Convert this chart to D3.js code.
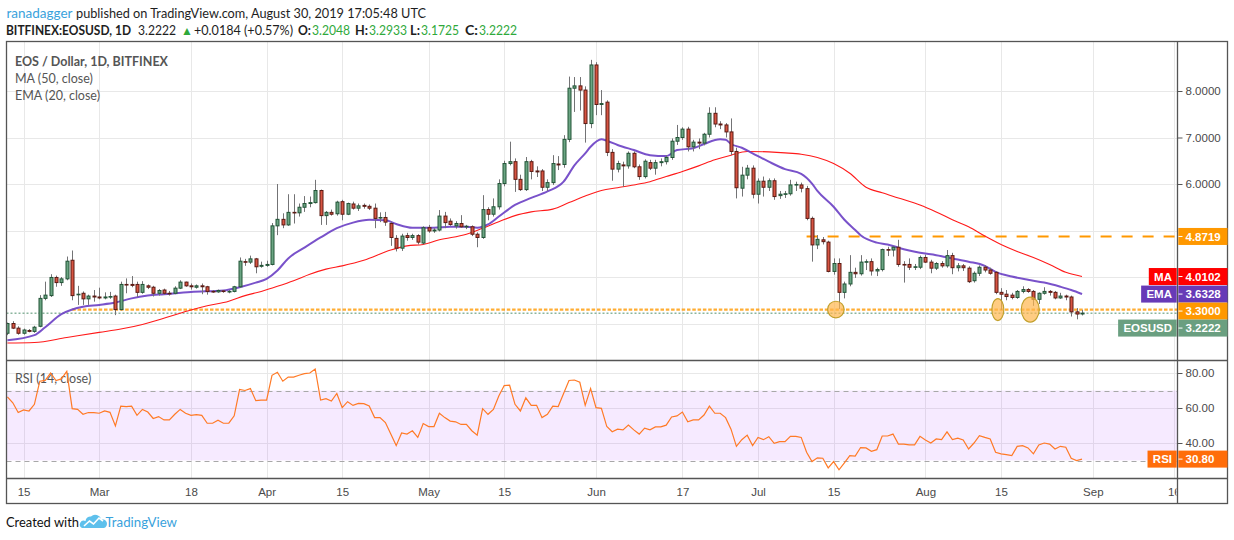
<!DOCTYPE html>
<html><head><meta charset="utf-8">
<script src="https://cdn.jsdelivr.net/npm/d3@7"></script>
<style>
html,body{margin:0;padding:0;background:#fff;}
svg{display:block;}
</style></head><body>
<svg id="c" width="1234" height="540" xmlns="http://www.w3.org/2000/svg"></svg>
<script>
// ---------------- DATA ----------------
const firstDay = "2019-02-12";
const open = [
2.79,3.00,2.90,2.79,2.85,2.83,2.94,3.54,3.60,3.99,3.88,3.96,4.36,3.62,3.65,3.53,3.59,3.57,3.55,3.58,
3.59,3.30,3.84,3.84,3.84,3.67,3.81,3.78,3.65,3.72,3.65,3.65,3.76,3.89,3.81,3.78,3.81,3.79,3.69,3.68,
3.70,3.69,3.69,3.79,4.33,4.32,4.39,4.23,4.25,4.27,5.10,5.24,5.12,5.39,5.38,5.50,5.58,5.60,5.86,5.32,
5.39,5.36,5.62,5.35,5.57,5.48,5.54,5.52,5.48,5.27,5.28,5.15,4.83,4.62,4.89,4.85,4.89,4.73,5.06,4.99,
5.01,5.31,5.20,5.10,5.15,5.08,5.08,4.92,4.85,5.45,5.35,5.51,6.01,6.44,6.48,6.10,5.88,6.48,6.28,6.28,
5.93,6.03,6.43,6.42,6.96,8.06,8.11,8.02,7.30,8.56,7.71,7.76,6.68,6.32,6.41,6.39,6.66,6.37,6.16,6.46,
6.34,6.46,6.48,6.57,6.92,7.00,7.18,6.80,6.90,6.88,7.07,7.52,7.29,7.27,7.12,6.70,5.91,6.19,6.34,5.78,
6.06,5.93,6.07,5.75,5.78,5.79,5.98,5.98,5.90,5.26,4.69,4.80,4.75,4.12,4.29,3.67,3.85,4.10,4.07,4.32,
4.33,4.13,4.16,4.59,4.58,4.64,4.27,4.27,4.21,4.21,4.42,4.32,4.19,4.29,4.24,4.46,4.20,4.24,4.19,3.92,
4.08,4.21,4.15,4.10,3.67,3.63,3.61,3.56,3.69,3.73,3.69,3.52,3.65,3.69,3.67,3.55,3.59,3.57,3.25,3.2048];
const high = [
3.02,3.05,2.94,2.89,2.88,2.95,3.61,3.90,4.06,4.03,4.00,4.44,4.57,3.81,3.69,3.62,3.72,3.77,3.67,3.68,
3.62,3.90,3.97,4.02,3.90,3.91,3.84,3.81,3.74,3.75,3.70,3.80,3.93,3.90,3.86,3.84,3.86,3.81,3.72,3.73,
3.72,3.72,3.81,4.42,4.39,4.46,4.41,4.33,4.35,5.16,6.00,5.37,5.78,5.78,5.58,5.74,5.73,6.09,5.88,5.42,
5.45,5.64,5.66,5.60,5.62,5.58,5.58,5.56,5.58,5.39,5.40,5.19,4.90,4.93,4.95,4.93,4.92,5.09,5.12,5.05,
5.44,5.40,5.26,5.20,5.33,5.12,5.11,4.96,5.76,5.50,5.69,6.10,6.50,6.91,6.55,6.20,6.58,6.52,6.38,6.32,
6.10,6.62,6.60,7.05,8.31,8.30,8.30,8.10,8.67,8.62,8.02,7.80,6.75,6.50,6.48,6.70,6.70,6.42,6.53,6.52,
6.52,6.55,6.62,6.98,7.27,7.22,7.23,6.95,6.98,7.10,7.65,7.65,7.35,7.31,7.41,6.78,6.37,6.41,6.40,6.12,
6.16,6.12,6.12,5.85,5.85,6.09,6.05,6.03,5.96,5.30,4.90,4.86,4.78,4.40,4.40,3.90,4.47,4.20,4.47,4.38,
4.40,4.20,4.61,4.65,4.66,4.80,4.34,4.40,4.28,4.46,4.48,4.37,4.32,4.34,4.58,4.52,4.30,4.28,4.23,4.12,
4.25,4.25,4.20,4.12,3.76,3.72,3.66,3.72,3.80,3.76,3.72,3.67,3.78,3.72,3.70,3.66,3.62,3.60,3.33,3.2933];
const low = [
2.75,2.88,2.76,2.76,2.81,2.80,2.92,3.50,3.57,3.79,3.81,3.93,3.50,3.40,3.40,3.40,3.47,3.52,3.52,3.53,
3.18,3.28,3.65,3.78,3.57,3.64,3.74,3.58,3.60,3.62,3.60,3.63,3.74,3.79,3.73,3.75,3.63,3.62,3.66,3.66,
3.66,3.65,3.67,3.77,4.24,4.28,4.08,4.20,4.22,4.25,4.90,5.05,5.10,5.15,5.30,5.40,5.50,5.58,5.12,5.12,
5.32,5.32,5.22,5.33,5.45,5.42,5.47,5.44,5.05,5.18,5.10,4.67,4.55,4.56,4.78,4.80,4.70,4.70,4.95,4.95,
4.98,5.05,5.10,5.04,5.06,5.03,4.88,4.64,4.82,5.22,5.30,5.45,5.95,6.40,5.83,5.85,5.85,6.10,6.15,5.85,
5.85,5.98,6.30,6.35,6.90,7.55,7.58,6.89,7.20,7.48,7.48,6.60,6.07,6.25,5.94,6.33,6.34,6.09,6.12,6.30,
6.20,6.38,6.42,6.52,6.84,6.95,6.70,6.70,6.75,6.83,7.00,7.22,7.18,7.00,6.62,5.69,5.73,6.10,5.69,5.58,
5.73,5.85,5.66,5.68,5.70,5.75,5.85,5.82,5.22,4.33,4.60,4.70,4.10,4.05,3.31,3.54,3.80,3.98,4.03,4.15,
4.03,4.02,4.12,4.45,4.44,4.22,3.88,4.15,4.15,4.17,4.30,4.08,4.15,4.20,4.20,4.06,4.12,4.13,3.87,3.88,
4.02,4.10,4.05,3.63,3.29,3.50,3.52,3.53,3.65,3.66,3.38,3.42,3.62,3.60,3.52,3.53,3.50,3.15,3.09,3.1725];
const close = [
3.00,2.90,2.79,2.86,2.83,2.92,3.54,3.61,3.99,3.88,3.96,4.34,3.60,3.63,3.53,3.59,3.57,3.55,3.57,3.58,
3.30,3.84,3.83,3.82,3.67,3.84,3.78,3.65,3.71,3.65,3.64,3.76,3.89,3.81,3.79,3.81,3.79,3.69,3.68,3.71,
3.69,3.69,3.79,4.34,4.32,4.39,4.22,4.25,4.27,5.10,5.24,5.12,5.39,5.38,5.50,5.58,5.60,5.86,5.32,5.39,
5.35,5.61,5.35,5.58,5.48,5.53,5.52,5.48,5.26,5.28,5.18,4.85,4.62,4.88,4.85,4.89,4.75,5.06,4.99,5.01,
5.31,5.17,5.13,5.15,5.08,5.09,4.92,4.85,5.45,5.35,5.51,6.01,6.44,6.48,6.10,5.88,6.48,6.27,6.26,5.93,
6.03,6.44,6.41,6.96,8.06,8.11,8.02,7.30,8.56,7.71,7.73,6.68,6.32,6.44,6.39,6.66,6.37,6.16,6.49,6.34,
6.46,6.48,6.57,6.92,7.00,7.18,6.80,6.90,6.88,7.07,7.52,7.29,7.27,7.12,6.70,5.92,6.19,6.34,5.78,6.06,
5.93,6.07,5.73,5.78,5.79,5.98,5.99,5.91,5.26,4.69,4.81,4.76,4.12,4.29,3.67,3.85,4.10,4.07,4.32,4.33,
4.13,4.16,4.59,4.58,4.64,4.27,4.26,4.21,4.22,4.42,4.32,4.19,4.29,4.24,4.46,4.20,4.24,4.20,3.90,4.08,
4.21,4.15,4.08,3.67,3.63,3.58,3.56,3.69,3.73,3.69,3.52,3.65,3.69,3.67,3.55,3.59,3.57,3.25,3.2038,3.2222];
const rsiValues = [
66.4,63.0,57.4,58.9,58.3,62.1,75.3,75.8,80.0,75.7,76.6,80.9,59.6,59.2,56.4,57.4,57.4,57.0,58.3,57.5,
49.8,61.1,60.8,61.1,55.8,59.2,57.7,54.0,55.1,53.2,53.2,56.4,59.2,57.0,55.8,56.2,55.8,51.3,51.3,53.0,
51.3,51.3,55.5,70.6,70.0,71.1,64.2,64.5,64.5,78.7,80.4,75.3,77.7,77.7,78.7,79.6,80.0,82.3,64.5,65.3,
64.0,68.3,60.2,63.6,61.5,62.6,62.5,61.1,54.5,54.5,51.7,45.1,38.5,45.7,45.1,47.0,43.2,51.1,49.4,49.4,
57.0,54.5,52.5,52.1,50.6,50.6,47.0,44.5,59.6,56.4,59.2,66.8,72.8,73.0,62.1,58.3,65.8,61.5,61.5,54.5,
56.4,61.1,60.8,68.3,75.7,76.0,74.7,61.5,71.1,60.2,59.8,49.4,46.4,47.9,47.5,50.2,47.5,45.1,48.5,47.5,
49.2,49.2,50.2,54.9,55.5,57.7,52.1,53.2,53.2,56.0,61.1,57.0,57.0,54.5,47.9,38.1,41.9,44.5,38.5,43.2,
41.9,43.6,39.8,40.8,40.8,43.8,43.8,43.2,34.7,29.4,31.5,31.3,25.8,29.4,24.7,28.7,32.8,32.5,37.4,37.2,
35.3,36.2,44.0,44.0,45.1,39.4,39.4,38.9,38.9,43.8,41.7,40.0,42.3,41.9,46.4,41.9,42.8,41.7,36.6,40.0,
44.2,43.2,42.3,34.7,33.8,33.4,32.8,38.1,38.5,37.2,33.8,38.9,40.0,39.4,36.6,38.1,37.6,31.3,30.0,30.8];
// MA(50)
const maPoints = [
["2019-02-12",2.58],["2019-02-17",2.59],["2019-02-23",2.70],["2019-03-01",2.81],["2019-03-05",2.88],
["2019-03-09",2.98],["2019-03-14",3.15],["2019-03-18",3.29],["2019-03-21",3.38],["2019-03-25",3.48],
["2019-03-28",3.60],["2019-03-31",3.69],["2019-04-03",3.80],["2019-04-06",3.92],["2019-04-09",4.06],
["2019-04-12",4.17],["2019-04-15",4.24],["2019-04-19",4.36],["2019-04-24",4.58],["2019-04-27",4.67],
["2019-04-30",4.70],["2019-05-03",4.80],["2019-05-08",4.92],["2019-05-11",5.05],["2019-05-14",5.19],
["2019-05-17",5.32],["2019-05-20",5.40],["2019-05-24",5.46],["2019-05-27",5.60],["2019-05-30",5.74],
["2019-06-02",5.86],["2019-06-05",5.92],["2019-06-08",5.98],["2019-06-11",6.05],["2019-06-14",6.16],
["2019-06-17",6.27],["2019-06-20",6.39],["2019-06-23",6.52],["2019-06-26",6.62],["2019-06-29",6.70],
["2019-07-03",6.69],["2019-07-06",6.67],["2019-07-09",6.64],["2019-07-12",6.57],["2019-07-15",6.44],
["2019-07-18",6.23],["2019-07-21",5.93],["2019-07-24",5.81],["2019-07-27",5.70],["2019-07-31",5.55],
["2019-08-03",5.40],["2019-08-06",5.23],["2019-08-09",5.08],["2019-08-12",4.88],["2019-08-15",4.70],
["2019-08-18",4.55],["2019-08-21",4.42],["2019-08-24",4.27],["2019-08-27",4.10],["2019-08-30",4.0102]];
// EMA(20)
const emaPoints = [
["2019-02-12",2.64],["2019-02-17",2.75],["2019-02-19",2.92],["2019-02-22",3.20],["2019-02-24",3.30],
["2019-02-26",3.36],["2019-03-01",3.40],["2019-03-04",3.45],["2019-03-07",3.54],["2019-03-10",3.60],
["2019-03-13",3.63],["2019-03-18",3.68],["2019-03-24",3.71],["2019-03-27",3.78],["2019-03-30",3.88],
["2019-04-01",3.96],["2019-04-03",4.14],["2019-04-05",4.40],["2019-04-08",4.63],["2019-04-11",4.85],
["2019-04-14",5.05],["2019-04-17",5.17],["2019-04-20",5.23],["2019-04-23",5.22],["2019-04-25",5.14],
["2019-04-28",5.06],["2019-05-02",5.06],["2019-05-05",5.08],["2019-05-08",5.08],["2019-05-10",5.06],
["2019-05-12",5.13],["2019-05-14",5.30],["2019-05-17",5.55],["2019-05-20",5.70],["2019-05-23",5.84],
["2019-05-26",6.05],["2019-05-28",6.40],["2019-05-30",6.66],["2019-05-31",6.80],["2019-06-02",6.96],
["2019-06-03",6.93],["2019-06-05",6.84],["2019-06-08",6.73],["2019-06-11",6.62],["2019-06-14",6.60],
["2019-06-16",6.73],["2019-06-19",6.77],["2019-06-21",6.86],["2019-06-24",6.96],["2019-06-25",6.95],
["2019-06-26",6.86],["2019-06-28",6.78],["2019-06-30",6.66],["2019-07-03",6.48],["2019-07-06",6.32],
["2019-07-09",6.22],["2019-07-11",6.01],["2019-07-12",5.85],["2019-07-15",5.51],["2019-07-17",5.23],
["2019-07-19",5.01],["2019-07-20",4.90],["2019-07-23",4.74],["2019-07-25",4.70],["2019-07-27",4.63],
["2019-07-29",4.57],["2019-07-31",4.52],["2019-08-03",4.47],["2019-08-06",4.40],["2019-08-09",4.33],
["2019-08-12",4.24],["2019-08-14",4.11],["2019-08-17",4.01],["2019-08-20",3.94],["2019-08-23",3.88],
["2019-08-26",3.79],["2019-08-28",3.72],["2019-08-30",3.6328]];
const timeTickDates = ["2019-02-15","2019-03-01","2019-03-18","2019-04-01","2019-04-15","2019-05-01","2019-05-15",
  "2019-06-01","2019-06-17","2019-07-01","2019-07-15","2019-08-01","2019-08-15","2019-09-01","2019-09-16"];
const timeTickLabels = ["15","Mar","18","Apr","15","May","15","Jun","17","Jul","15","Aug","15","Sep","16"];
const priceTicks = [8,7,6,5,4,3];
const rsiTicks = [80,60,40];
const rsiBand = [70,30];
const resistance = 4.8719, resistanceFrom = "2019-07-10";
const support = 3.30, supportFrom = "2019-02-24";
const touchTimes = ["2019-07-15T10:00","2019-08-14T10:00","2019-08-20T10:00"];

// ---------------- SETUP ----------------
const svg = d3.select("#c");
const parseDay = d3.utcParse("%Y-%m-%d");
const parseTime = d3.utcParse("%Y-%m-%dT%H:%M");
const days = d3.utcDay.range(parseDay(firstDay), d3.utcDay.offset(parseDay(firstDay), close.length));
const candles = days.map((d,i)=>({d, o:open[i], h:high[i], l:low[i], c:close[i], r:rsiValues[i]}));

const LEFT=6.5, RIGHT=1227.5, TOP=41.5, AXISX=1177.5, MAINB=360.5, RSIB=478.5, BOTTOM=503.5;
const x = d3.scaleUtc().domain([parseDay("2019-03-01"), parseDay("2019-07-01")]).range([99.2, 758]);
const y = d3.scaleLinear().domain([3,8]).range([323.5, 91]);
const yR = d3.scaleLinear().domain([30,80]).range([460.5, 373]);

const AX_FONT = "'Liberation Sans', Arial, sans-serif";
const UI_FONT = "Lato, 'Open Sans', sans-serif";
const GRID = "#e8e8e8", FRAME = "#555";

const defs = svg.append("defs");
defs.append("clipPath").attr("id","clipMain").append("rect")
  .attr("x",LEFT).attr("y",TOP).attr("width",AXISX-LEFT).attr("height",MAINB-TOP);
defs.append("clipPath").attr("id","clipRsi").append("rect")
  .attr("x",LEFT).attr("y",MAINB).attr("width",AXISX-LEFT).attr("height",RSIB-MAINB);
defs.append("clipPath").attr("id","clipTime").append("rect")
  .attr("x",LEFT).attr("y",RSIB).attr("width",AXISX-LEFT-1).attr("height",BOTTOM-RSIB);

svg.append("rect").attr("width",1234).attr("height",540).attr("fill","#fff");

// ---------------- HEADER ----------------
const hdr = svg.append("g").attr("font-family",UI_FONT).attr("font-size",13).attr("fill","#1e1e1e");
// text placed at the reference's spans; textLength keeps each span its width
const hText = (x0, x1, yy, txt, opt={}) => hdr.append("text").attr("x",x0).attr("y",yy)
  .attr("font-weight",opt.bold?"bold":null).attr("fill",opt.fill||null)
  .attr("textLength",x1-x0).attr("lengthAdjust","spacingAndGlyphs").text(txt);
hText(6.5, 72.5, 17.5, "ranadagger", {fill:"#3aa2dc"});
hText(76, 426, 17.5, "published on TradingView.com, August 30, 2019 17:05:48 UTC");

const last = candles[candles.length-1], prev = candles[candles.length-2];
const chg = last.c - prev.c, pct = chg/prev.c*100;
const f4 = d3.format(".4f");
const GREEN_TXT = "#2fa93b";
hText(6, 131, 35, "BITFINEX:EOSUSD, 1D", {bold:true});
hText(138, 176, 35, f4(last.c));
hdr.append("text").attr("x",181).attr("y",35).attr("fill",GREEN_TXT).attr("font-size",12).text("▲");
hText(194, 293, 35, (chg>=0?"+":"") + f4(chg) + " (" + (pct>=0?"+":"") + d3.format(".2f")(pct) + "%)");
[["O:",last.o,298,312],["H:",last.h,355,369],["L:",last.l,410,421],["C:",last.c,465,479]].forEach(([k,v,a,b])=>{
  hText(a, b-1, 35, k, {bold:true});
  hText(b, b+38, 35, f4(v), {fill:GREEN_TXT});
});

// ---------------- GRID ----------------
const tickDates = timeTickDates.map(parseDay);
const gGrid = svg.append("g");
gGrid.append("g").attr("clip-path","url(#clipMain)").selectAll("line.v").data(tickDates).join("line")
  .attr("x1",d=>Math.round(x(d))+0.5).attr("x2",d=>Math.round(x(d))+0.5).attr("y1",TOP).attr("y2",MAINB)
  .attr("stroke",GRID);
gGrid.append("g").attr("clip-path","url(#clipRsi)").selectAll("line.v").data(tickDates).join("line")
  .attr("x1",d=>Math.round(x(d))+0.5).attr("x2",d=>Math.round(x(d))+0.5).attr("y1",MAINB).attr("y2",RSIB)
  .attr("stroke",GRID);
gGrid.selectAll("line.hp").data(priceTicks).join("line").attr("class","hp")
  .attr("x1",LEFT).attr("x2",AXISX).attr("y1",d=>Math.round(y(d))+0.5).attr("y2",d=>Math.round(y(d))+0.5)
  .attr("stroke",GRID);
gGrid.selectAll("line.hr").data(rsiTicks).join("line").attr("class","hr")
  .attr("x1",LEFT).attr("x2",AXISX).attr("y1",d=>Math.round(yR(d))+0.5).attr("y2",d=>Math.round(yR(d))+0.5)
  .attr("stroke",GRID);

// ---------------- LEGENDS ----------------
const lg = svg.append("g").attr("font-family",UI_FONT).attr("font-size",12.5).attr("fill","#555");
lg.append("text").attr("x",15).attr("y",65.5).attr("font-weight","bold").text("EOS / Dollar, 1D, BITFINEX");
lg.append("text").attr("x",15).attr("y",82.5).text("MA (50, close)");
lg.append("text").attr("x",15).attr("y",99.5).text("EMA (20, close)");
lg.append("text").attr("x",15).attr("y",382.5).text("RSI (14, close)");

// ---------------- MAIN PANE ----------------
const gMain = svg.append("g").attr("clip-path","url(#clipMain)");

gMain.append("line").attr("x1",LEFT).attr("x2",AXISX)
  .attr("y1",y(last.c)).attr("y2",y(last.c))
  .attr("stroke","#4f8f6c").attr("stroke-width",1).attr("stroke-dasharray","2,2");
gMain.append("line").attr("x1",x(parseDay(supportFrom))).attr("x2",AXISX)
  .attr("y1",y(support)).attr("y2",y(support))
  .attr("stroke","#ff9800").attr("stroke-opacity",0.8).attr("stroke-width",2.2).attr("stroke-dasharray","3.5,1.8");
gMain.append("line").attr("x1",x(parseDay(resistanceFrom))).attr("x2",AXISX)
  .attr("y1",y(resistance)).attr("y2",y(resistance))
  .attr("stroke","#ff9800").attr("stroke-width",2).attr("stroke-dasharray","11,10");

const lineGen = d3.line().x(d=>x(parseDay(d[0]))).y(d=>y(d[1])).curve(d3.curveMonotoneX);
gMain.append("path").attr("d",lineGen(maPoints)).attr("fill","none").attr("stroke","#ff1a1a").attr("stroke-width",1.1);
gMain.append("path").attr("d",lineGen(emaPoints)).attr("fill","none").attr("stroke","#6a3fc4").attr("stroke-width",2).attr("stroke-opacity",0.9);

const gC = gMain.append("g");
const cg = gC.selectAll("g").data(candles).join("g");
cg.append("line")
  .attr("x1",d=>Math.round(x(d.d))+0.5).attr("x2",d=>Math.round(x(d.d))+0.5)
  .attr("y1",d=>y(d.h)).attr("y2",d=>y(d.l))
  .attr("stroke","#737375").attr("stroke-width",1);
cg.append("rect")
  .attr("x",d=>Math.round(x(d.d))-1.5+0.5)
  .attr("width",3)
  .attr("y",d=>Math.min(y(d.o),y(d.c)))
  .attr("height",d=>Math.max(0.6,Math.abs(y(d.o)-y(d.c))))
  .attr("fill",d=>d.c>=d.o?"#6ba583":"#d75442")
  .attr("stroke",d=>d.c>=d.o?"#225437":"#5b1a13")
  .attr("stroke-width",1);

const touchR = [[8.3,8.3],[6,11],[9,12.5]];
gMain.selectAll("ellipse").data(touchTimes).join("ellipse")
  .attr("cx",d=>x(parseTime(d))).attr("cy",y(support))
  .attr("rx",(d,i)=>touchR[i][0]).attr("ry",(d,i)=>touchR[i][1])
  .attr("fill","#ffb74d").attr("fill-opacity",0.7)
  .attr("stroke","#c3a12e").attr("stroke-width",1.2);

// ---------------- RSI PANE ----------------
const gR = svg.append("g").attr("clip-path","url(#clipRsi)");
gR.append("rect").attr("x",LEFT).attr("width",AXISX-LEFT)
  .attr("y",yR(rsiBand[0])).attr("height",yR(rsiBand[1])-yR(rsiBand[0]))
  .attr("fill","rgb(153,21,255)").attr("fill-opacity",0.09);
gR.selectAll("line.band").data(rsiBand).join("line").attr("class","band")
  .attr("x1",LEFT).attr("x2",AXISX).attr("y1",d=>Math.round(yR(d))+0.5).attr("y2",d=>Math.round(yR(d))+0.5)
  .attr("stroke","#a8a8a8").attr("stroke-dasharray","5,4");
gR.append("path")
  .attr("d", d3.line().x(d=>x(d.d)).y(d=>yR(d.r))(candles))
  .attr("fill","none").attr("stroke","#ff7a26").attr("stroke-width",1.2);

// ---------------- FRAME ----------------
const fr = svg.append("g").attr("stroke",FRAME).attr("stroke-width",1.3).attr("fill","none");
fr.append("rect").attr("x",LEFT).attr("y",TOP).attr("width",RIGHT-LEFT).attr("height",BOTTOM-TOP);
fr.append("line").attr("x1",AXISX).attr("x2",AXISX).attr("y1",TOP).attr("y2",BOTTOM);
fr.append("line").attr("x1",LEFT).attr("x2",RIGHT).attr("y1",MAINB).attr("y2",MAINB);
fr.append("line").attr("x1",LEFT).attr("x2",RIGHT).attr("y1",RSIB).attr("y2",RSIB);

// ---------------- PRICE LABEL BOXES (layout) ----------------
const BOXH = 17;
const boxes = [
  {v:resistance, color:"#ff9800"},
  {v:maPoints[maPoints.length-1][1], name:"MA", color:"#ff0000"},
  {v:emaPoints[emaPoints.length-1][1], name:"EMA", color:"#673ab7"},
  {v:support, color:"#ff9800"},
  {v:last.c, name:"EOSUSD", color:"#6a9f80"}
].sort((a,b)=>y(a.v)-y(b.v));
let prevBottom = -1e9;
boxes.forEach(b=>{ let cy=y(b.v); if (cy-BOXH/2 < prevBottom) cy = prevBottom + BOXH/2; b.cy=cy; prevBottom = cy+BOXH/2; });

// ---------------- AXES ----------------
const styleAxis = g => {
  g.select(".domain").remove();
  g.selectAll("text").attr("font-family",AX_FONT).attr("font-size",11.5).attr("fill","#4a4a4a");
  g.selectAll(".tick line").attr("stroke",FRAME);
};
// scale labels hidden behind a price label box are dropped, as TradingView does
const visibleTicks = priceTicks.filter(v => !boxes.some(b => Math.abs(y(v)-b.cy) < BOXH/2 + 5));
svg.append("g").attr("transform",`translate(${AXISX},0)`)
  .call(d3.axisRight(y).tickValues(visibleTicks).tickFormat(f4).tickSize(5).tickPadding(3))
  .call(styleAxis);
svg.append("g").attr("transform",`translate(${AXISX},0)`)
  .call(d3.axisRight(yR).tickValues(rsiTicks).tickFormat(d3.format(".2f")).tickSize(5).tickPadding(3))
  .call(styleAxis);
svg.append("g").attr("clip-path","url(#clipTime)").append("g").attr("transform",`translate(0,${RSIB})`)
  .call(d3.axisBottom(x).tickValues(tickDates).tickFormat((d,i)=>timeTickLabels[i]).tickSize(0).tickPadding(9))
  .call(styleAxis);

function drawBox(cy, value, name, color){
  const g = svg.append("g").attr("font-family",AX_FONT).attr("font-size",11.5).attr("font-weight","bold");
  g.append("rect").attr("x",AXISX+0.8).attr("y",cy-BOXH/2).attr("width",RIGHT-AXISX-0.8).attr("height",BOXH).attr("fill",color);
  g.append("line").attr("x1",AXISX+1).attr("x2",AXISX+5).attr("y1",cy).attr("y2",cy).attr("stroke","#fff");
  g.append("text").attr("x",AXISX+8).attr("y",cy).attr("dy","0.36em").attr("fill","#fff").text(value);
  if (name){
    const t = g.append("text").attr("y",cy).attr("dy","0.36em").attr("fill","#fff").attr("text-anchor","end").text(name);
    const w = t.node().getComputedTextLength() + 10;
    g.insert("rect","text").attr("x",AXISX-0.8-w).attr("y",cy-BOXH/2).attr("width",w).attr("height",BOXH).attr("fill",color);
    t.attr("x",AXISX-5.5);
  }
}
boxes.forEach(b=>drawBox(b.cy, f4(b.v), b.name, b.color));
drawBox(yR(last.r), d3.format(".2f")(last.r), "RSI", "#ff6d0a");

// ---------------- FOOTER ----------------
const ft = svg.append("g").attr("font-family",UI_FONT).attr("font-size",13.5);
ft.append("text").attr("x",6).attr("y",526.5).attr("fill","#111")
  .attr("textLength",73).attr("lengthAdjust","spacingAndGlyphs").text("Created with");
ft.append("path").attr("d","M82,528 L104,528 A4.5,4.5 0 0 0 101,519.5 A6,6 0 0 0 91,516.5 A5,5 0 0 0 85.5,521 A3.6,3.6 0 0 0 82,528 Z")
  .attr("fill","#5ec0ec");
ft.append("polyline").attr("points","84,526 89.5,521 93.5,524 99,518 103,521")
  .attr("fill","none").attr("stroke","#fff").attr("stroke-width",1.6);
ft.append("text").attr("x",105.5).attr("y",526.5).attr("fill","#3aa2dc")
  .attr("textLength",71.5).attr("lengthAdjust","spacingAndGlyphs").text("TradingView");
</script>
</body></html>
